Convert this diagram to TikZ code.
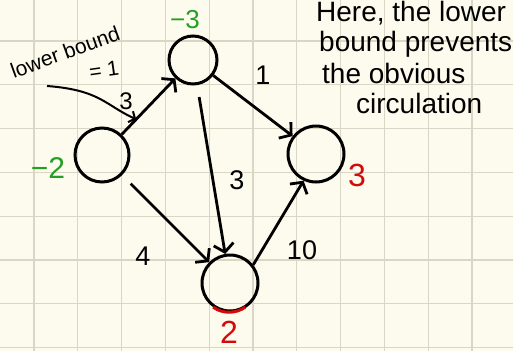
\documentclass[tikz,border=0pt]{standalone}
\usepackage{fontspec}
\setmainfont{Liberation Sans}
\usetikzlibrary{arrows.meta}
\definecolor{paper}{HTML}{FDFBEE}
\definecolor{gridc}{HTML}{DAD6C6}
\definecolor{inkgreen}{HTML}{22A022}
\definecolor{inkred}{HTML}{D40A0A}
\tikzset{
  vtx/.style={circle,draw=black,line width=3pt,minimum size=#1,inner sep=0pt},
  flow/.style={line width=2.8pt,-{Straight Barb[length=8pt,width=20pt,line width=2.8pt]}},
  elabel/.style={font=\fontsize{27}{27}\selectfont,inner sep=0pt},
  supply/.style={font=\fontsize{26}{26}\selectfont,inner sep=0pt,text=inkgreen},
  demand/.style={font=\fontsize{32}{32}\selectfont,inner sep=0pt,text=inkred},
  note/.style={font=\fontsize{28}{28}\selectfont,inner sep=0pt,anchor=west},
  small/.style={font=\fontsize{21}{21}\selectfont,inner sep=0pt},
  gridline/.style={gridc,line width=1.3pt}
}
\begin{document}
\begin{tikzpicture}[x=1pt,y=-1pt]
\useasboundingbox[fill=paper] (0,0) rectangle (513,351);
% grid
\foreach \gx in {34,77.8,121.6,165.4,209.2,253,296.8,340.6,384.4,428.2,472}
  \draw[gridline] (\gx,0) -- (\gx,351);
\foreach \gy in {41,84.8,128.6,172.4,216.2,260,303.8,347.6}
  \draw[gridline] (0,\gy) -- (513,\gy);
% vertices
\node[vtx=54pt] (A) at (102,155) {};
\node[vtx=48pt] (B) at (193,60) {};
\node[vtx=56pt] (C) at (316,154) {};
\node[vtx=56pt] (D) at (230,283) {};
\draw[inkred,line width=3pt] (D.235) arc[start angle=-125,end angle=-55,radius=28pt];
% edges
\draw[flow] (A) -- (B);
\draw[flow] (B) -- (C);
\draw[flow,shorten <=12pt] (B) -- (D);
\draw[flow,shorten <=12pt] (A) -- (D);
\draw[flow] (D.38) -- (C.245);
% edge labels
\node[small,font=\fontsize{24}{24}\selectfont] (lab) at (126,101) {3};
\node[elabel] (lbc) at (263,75) {1};
\node[elabel] (lbd) at (237,180) {3};
\node[elabel] (lad) at (143,256) {4};
\node[elabel] (ldc) at (302,250) {10};
% supplies / demands
\node[supply] (sB) at (185,20) {−3};
\node[supply,font=\fontsize{30}{30}\selectfont] (sA) at (48,168) {−2};
\node[demand] (dC) at (357,175) {3};
\node[demand] (dD) at (229,332) {2};
% lower bound annotation
\node[small,rotate=20] (lbtext) at (65,52) {lower bound};
\node[small,rotate=8] (lbval) at (104,70) {= 1};
\path (A) -- (B) coordinate[pos=0.27] (lbtip);
\coordinate (lbstart) at (47,86);
\draw[line width=2pt,-{Straight Barb[length=5pt,width=12pt,line width=2pt]}] (lbstart) .. controls (100,90) and (105,105) .. (lbtip);
% note
\node[note] (n1) at (316,13) {Here, the lower};
\node[note] (n2) at (319,44) {bound prevents};
\node[note] (n3) at (322,73) {the obvious};
\node[note] (n4) at (356,103) {circulation};
\end{tikzpicture}
\end{document}
